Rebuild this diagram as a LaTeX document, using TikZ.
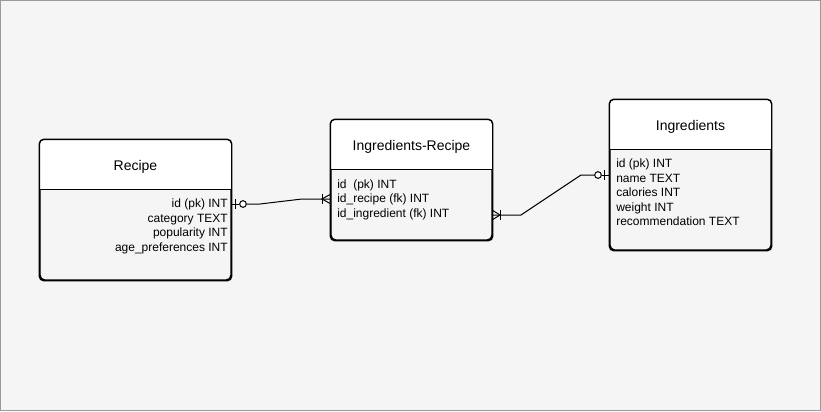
\documentclass[tikz,border=0pt]{standalone}
\usepackage{fontspec}
\setmainfont{Liberation Sans}
\definecolor{bg}{HTML}{F5F5F5}
\definecolor{frame}{HTML}{9A9A9A}
\begin{document}
\begin{tikzpicture}[x=0.75pt,y=-0.75pt,
  ent/.style={draw, line width=1.1pt, rounded corners=3.5pt, fill=bg, inner sep=0pt},
  ttl/.style={font=\fontsize{10.5}{12}\selectfont, inner sep=0pt, anchor=base},
  rowl/.style={font=\fontsize{9}{10}\selectfont, inner sep=0pt, anchor=base west},
  rowr/.style={font=\fontsize{9}{10}\selectfont, inner sep=0pt, anchor=base east},
  conn/.style={line width=0.75pt},
  endc/.style={circle, draw, line width=0.75pt, fill=white, minimum size=5pt, inner sep=0pt}
]
% background and frame
\path[fill=bg, draw=frame, line width=0.75pt] (0.5,0.5) rectangle (820.5,410.5);
\useasboundingbox (0,0) rectangle (821,411);

% ---------- entity macro-free drawing ----------
% Recipe
\node[ent, minimum width=143.25pt, minimum height=105pt] (recipe) at (135.5,210) {};
\begin{scope}
  \clip (recipe.north west) rectangle ([yshift=-37.5pt]recipe.north east);
  \fill[white, rounded corners=3.5pt] (recipe.north west) rectangle (recipe.south east);
\end{scope}
\draw[line width=1.1pt, rounded corners=3.5pt] (recipe.north west) rectangle (recipe.south east);
\draw[line width=1.1pt] ([yshift=-37.5pt]recipe.north west) -- ([yshift=-37.5pt]recipe.north east);
\node[ttl] (recipeT) at (135.5,170) {Recipe};
\node[rowr] (r1) at (228,207.5) {id (pk) INT};
\node[rowr] (r2) at (228,222) {category TEXT};
\node[rowr] (r3) at (228,236.5) {popularity INT};
\node[rowr] (r4) at (228,251) {age\_preferences INT};

% Ingredients-Recipe
\node[ent, minimum width=120.75pt, minimum height=90pt] (ir) at (411.5,180) {};
\begin{scope}
  \clip (ir.north west) rectangle ([yshift=-37.5pt]ir.north east);
  \fill[white, rounded corners=3.5pt] (ir.north west) rectangle (ir.south east);
\end{scope}
\draw[line width=1.1pt, rounded corners=3.5pt] (ir.north west) rectangle (ir.south east);
\draw[line width=1.1pt] ([yshift=-37.5pt]ir.north west) -- ([yshift=-37.5pt]ir.north east);
\node[ttl] (irT) at (411.5,150) {Ingredients-Recipe};
\node[rowl] (i1) at (337,188) {id\ \ (pk) INT};
\node[rowl] (i2) at (337,202.5) {id\_recipe (fk) INT};
\node[rowl] (i3) at (337,217) {id\_ingredient (fk) INT};

% Ingredients
\node[ent, minimum width=120.75pt, minimum height=112.5pt] (ing) at (690.5,175) {};
\begin{scope}
  \clip (ing.north west) rectangle ([yshift=-37.5pt]ing.north east);
  \fill[white, rounded corners=3.5pt] (ing.north west) rectangle (ing.south east);
\end{scope}
\draw[line width=1.1pt, rounded corners=3.5pt] (ing.north west) rectangle (ing.south east);
\draw[line width=1.1pt] ([yshift=-37.5pt]ing.north west) -- ([yshift=-37.5pt]ing.north east);
\node[ttl] (ingT) at (690.5,130) {Ingredients};
\node[rowl] (g1) at (616,167.5) {id (pk) INT};
\node[rowl] (g2) at (616,182) {name TEXT};
\node[rowl] (g3) at (616,196.5) {calories INT};
\node[rowl] (g4) at (616,211) {weight INT};
\node[rowl] (g5) at (616,225.5) {recommendation TEXT};

% ---------- connector 1: Recipe (one-or-zero) -- IR (one-or-many) ----------
\coordinate (c1s) at (231,204);
\coordinate (c1e) at (331,199);
\node[endc] (c1o) at (243,204) {};
\draw[conn] (c1s) -- (c1o.west);
\draw[conn] (235,199) -- (235,209);
\draw[conn] (c1o.east) -- (260,204) -- (302,199) -- (c1e);
\draw[conn] (322,194) -- (322,204);
\draw[conn] (331,194) -- (322,199) -- (331,204);

% ---------- connector 2: IR (one-or-many) -- Ingredients (one-or-zero) ----------
\coordinate (c2s) at (492,215);
\coordinate (c2e) at (610,175);
\node[endc] (c2o) at (598,175) {};
\draw[conn] (c2s) -- (521,215) -- (581,175) -- (c2o.west);
\draw[conn] (c2o.east) -- (c2e);
\draw[conn] (604.5,170) -- (604.5,180);
\draw[conn] (492,210) -- (500,215) -- (492,220);
\draw[conn] (500,210) -- (500,220);
\end{tikzpicture}
\end{document}
